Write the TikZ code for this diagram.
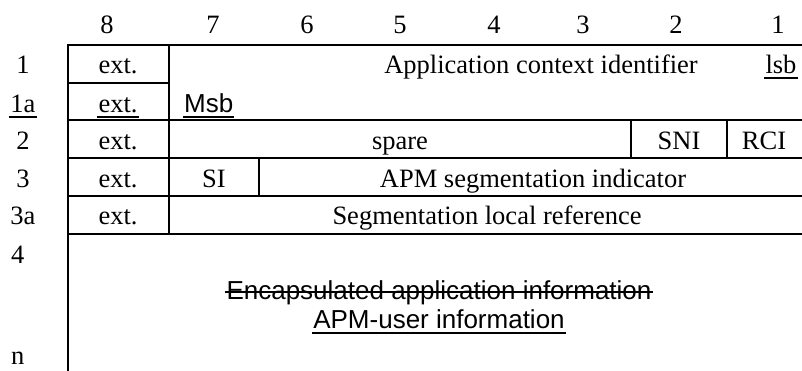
\documentclass[tikz,border=0pt]{standalone}
\usepackage{fontspec}
\setmainfont{Liberation Serif}
\newfontfamily\arialfont{Liberation Sans}
\usetikzlibrary{positioning}
\tikzstyle{every node}=[font=\fontsize{26.5}{30}\selectfont,inner sep=0pt,anchor=base]
\tikzstyle{every path}=[line width=2.2pt,line cap=rect]
\tikzstyle{inner rule}=[line width=1.5pt]
\tikzstyle{mark line}=[line width=1.5pt,line cap=butt]
\tikzstyle{sans}=[font=\fontsize{26}{30}\selectfont\arialfont]
\tikzstyle{rowlab}=[anchor=base west]

\begin{document}
\begin{tikzpicture}[x=1pt,y=-1pt]
  \useasboundingbox (0,0) rectangle (802,370);
  % frame and rows
  \draw (68,372) -- (68,45) -- (804,45)
  (68,83) -- (169,83)
  (68,120) -- (804,120)
  (68,158) -- (804,158)
  (68,196) -- (804,196)
  (68,234) -- (804,234)
  (169,45) -- (169,234);
  \draw[inner rule] (259,158) -- (259,196)
  (631,120) -- (631,158)
  (727,120) -- (727,158);
  % bit numbers
  \node (b8) at (107,33) {8};
  \node (b7) at (213,33) {7};
  \node (b6) at (307,33) {6};
  \node (b5) at (400,33) {5};
  \node (b4) at (494,33) {4};
  \node (b3) at (583,33) {3};
  \node (b2) at (676,33) {2};
  \node (b1) at (778,33) {1};
  % octet numbers
  \node (o1) at (23,73) {1};
  \node (o1a) at (23,112) {1a};
  \node (o2) at (23,149) {2};
  \node (o3) at (23,187) {3};
  \node (o3a) at (23,224) {3a};
  \node[rowlab] (o4) at (10,263) {4};
  \node[rowlab] (on) at (10,364) {n};
  % fields
  \node (ext1) at (118,73) {ext.};
  \node (ext1a) at (118,112) {ext.};
  \node (ext2) at (118,149) {ext.};
  \node (ext3) at (118,187) {ext.};
  \node (ext3a) at (118,224) {ext.};
  \node (acid) at (541,73) {Application context identifier};
  \node (lsb) at (781,73) {lsb};
  \node[sans,anchor=base west] (msb) at (183,112) {Msb};
  \node (spare) at (400,149) {spare};
  \node (sni) at (679,149) {SNI};
  \node (rci) at (764,149) {RCI};
  \node (si) at (214,187) {SI};
  \node (apmseg) at (533,187) {APM segmentation indicator};
  \node (slr) at (487,224) {Segmentation local reference};
  \node[sans] (encap) at (439,299) {Encapsulated application information};
  \node[sans] (apmuser) at (439,328) {APM-user information};
  % underlines and strike-out
  \draw[mark line] ([yshift=-5pt]o1a.base west) -- ([yshift=-5pt]o1a.base east)
  ([yshift=-5pt]ext1a.base west) -- ([yshift=-5pt]ext1a.base east)
  ([yshift=-5pt]lsb.base west) -- ([yshift=-5pt]lsb.base east)
  ([yshift=-5pt]msb.base west) -- ([yshift=-5pt]msb.base east)
  ([yshift=-5pt]apmuser.base west) -- ([yshift=-5pt]apmuser.base east)
  ([yshift=7pt]encap.base west) -- ([yshift=7pt]encap.base east);
\end{tikzpicture}
\end{document}
